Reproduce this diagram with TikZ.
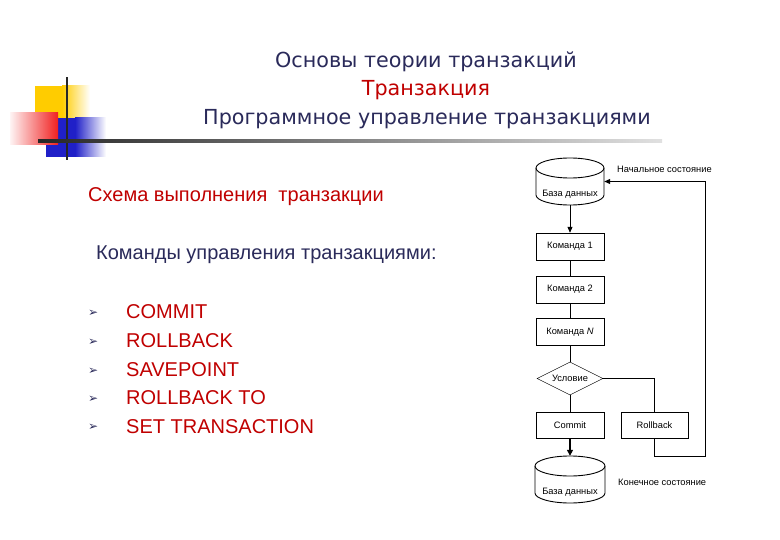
\documentclass[tikz,border=0pt]{standalone}
\usepackage{fontspec}
\setmainfont{Liberation Sans}
\newfontfamily\titlefont{DejaVu Sans}
\newfontfamily\symfont{DejaVu Sans}
\usetikzlibrary{shapes.geometric,arrows.meta}
\definecolor{navy}{HTML}{2A2A5A}
\definecolor{dred}{HTML}{C00000}
\definecolor{ylw}{HTML}{FFCC00}
\definecolor{blu}{HTML}{2020C8}
\definecolor{rd}{HTML}{F02020}
\tikzset{
  ttl/.style={font=\titlefont\fontsize{20.7}{24}\selectfont, inner sep=0, anchor=base},
  body/.style={font=\fontsize{20}{24}\selectfont, inner sep=0, anchor=base west},
  bul/.style={font=\symfont\fontsize{12}{14}\selectfont, text=navy, inner sep=0, anchor=base west},
  cmdbox/.style={draw, rectangle, minimum width=68pt, minimum height=27pt, inner sep=0, font=\fontsize{9.3}{11}\selectfont},
  cond/.style={draw, diamond, aspect=2, minimum width=66pt, minimum height=33pt, inner sep=0, font=\fontsize{9.3}{11}\selectfont},
  dbframe/.style={rectangle, minimum width=68pt, minimum height=47pt, inner sep=0},
  small/.style={font=\fontsize{9.3}{11}\selectfont, inner sep=0},
  flow/.style={line width=0.9pt},
  arr/.style={line width=0.9pt, -{Triangle[length=6pt,width=5pt]}},
}
\begin{document}
\begin{tikzpicture}[x=1pt,y=-1pt]
\useasboundingbox[fill=white] (0,0) rectangle (780,540);
% decorative logo
\fill[ylw] (35,86) rectangle (62,118);
\shade[left color=ylw, right color=white] (62,86) rectangle (90,118);
\fill[blu] (46,118) rectangle (75,157);
\shade[left color=blu, right color=white] (75,118) rectangle (106,157);
\shade[left color=rd!5, right color=rd] (10,113) rectangle (58,145);
\fill[black!85] (65.8,77) rectangle (68.2,160);
\shade[left color=black!85, right color=black!12] (38,139.8) rectangle (662,142.2);
% titles
\node[ttl, text=navy] (t1) at (426,68) {Основы теории транзакций};
\node[ttl, text=dred] (t2) at (426,96) {Транзакция};
\node[ttl, text=navy] (t3) at (427,125) {Программное управление транзакциями};
% left text
\node[body, text=dred] (s1) at (88,202) {Схема выполнения\ \ транзакции};
\node[body, text=navy] (s2) at (96,260) {Команды управления транзакциями:};
\foreach \y/\t [count=\i] in {319/COMMIT,348/ROLLBACK,376.5/SAVEPOINT,405/ROLLBACK TO,433.5/SET TRANSACTION}{
  \node[bul] (b\i) at (88,\y-2.5) {➢};
  \node[body, text=dred] (c\i) at (126,\y) {\t};
}
% flowchart
% top cylinder
\draw[flow] (536,168) -- (536,195) arc[start angle=180, end angle=0, x radius=34, y radius=10] -- (604,168);
\draw[flow] (570,168) ellipse[x radius=34, y radius=10];
\node[dbframe] (db1) at (570,181.5) {};
\node[small] (db1t) at (570,194) {База данных};
\node[small, anchor=west] (lab1) at (617,169) {Начальное состояние};
\node[cmdbox] (k1) at (570,246.5) {Команда 1};
\node[cmdbox] (k2) at (570,289.5) {Команда 2};
\node[cmdbox] (k3) at (570,332) {Команда \textit{N}};
\node[cond] (u) at (570,378.5) {Условие};
\node[cmdbox, minimum height=26pt] (cm) at (570,425) {Commit};
\node[cmdbox, minimum width=67pt, minimum height=26pt] (rb) at (654.5,425) {Rollback};
% bottom cylinder
\draw[flow] (535,466) -- (535,493) arc[start angle=180, end angle=0, x radius=35, y radius=10] -- (605,466);
\draw[flow] (570,466) ellipse[x radius=35, y radius=10];
\node[dbframe, minimum width=70pt] (db2) at (570,479.5) {};
\node[small] (db2t) at (570,492) {База данных};
\node[small, anchor=west] (lab2) at (618,482) {Конечное состояние};
% connectors
\draw[arr] (db1.south) -- (k1.north);
\draw[flow] (k1) -- (k2);
\draw[flow] (k2) -- (k3);
\draw[flow] (k3) -- (u);
\draw[flow] (u.south) -- (cm.north);
\draw[flow] (u.east) -| (rb.north);
\draw[line width=2.4pt, -{Triangle[length=6pt,width=6pt]}] (cm.south) -- (db2.north);
\coordinate (loop) at (705,456);
\draw[arr] (rb.south) |- (loop) |- (db1.east);
\end{tikzpicture}
\end{document}
